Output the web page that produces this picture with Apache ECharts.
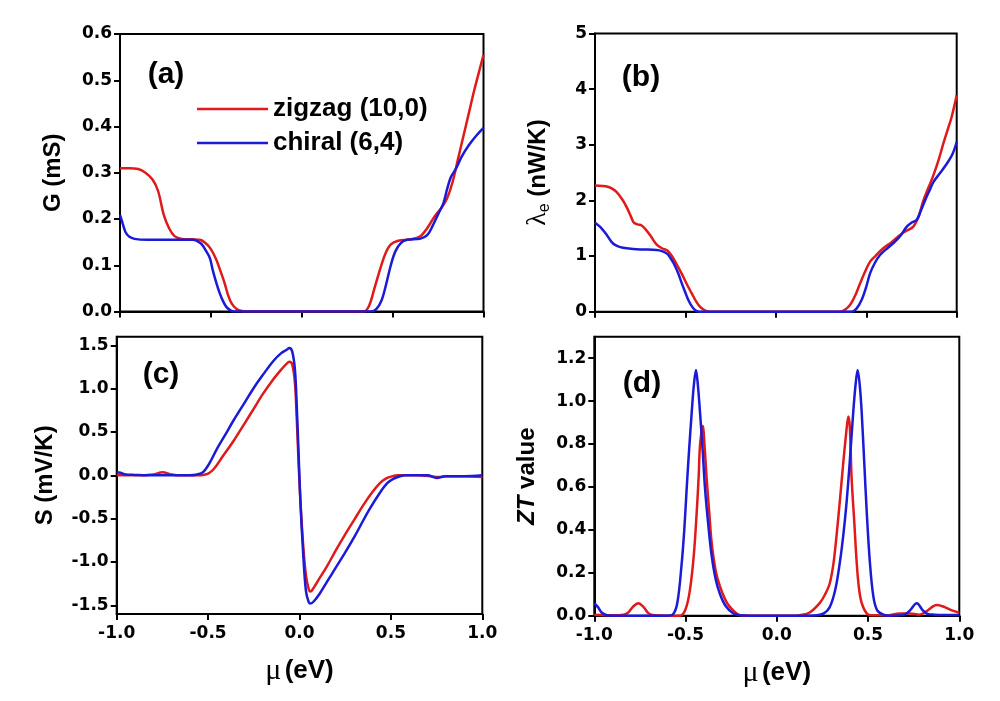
<!DOCTYPE html>
<html>
<head>
<meta charset="utf-8">
<script src="https://cdn.jsdelivr.net/npm/echarts@6/dist/echarts.min.js"></script>
<style>
html,body{margin:0;padding:0;background:#fff;}
#c{width:1000px;height:701px;}
</style>
</head>
<body>
<div id="c"></div>
<script>
// ---------- data ----------
const seriesNames = ['zigzag (10,0)', 'chiral (6,4)'];
const xTicks = [-1.0, -0.5, 0.0, 0.5, 1.0];

// (a) conductance G (mS)
const muA_zz = [-1.0,-0.95,-0.9,-0.86,-0.82,-0.79,-0.76,-0.73,-0.70,-0.66,-0.6,-0.56,-0.53,-0.50,-0.47,-0.445,-0.425,-0.405,-0.385,-0.36,-0.33,-0.3,0,0.3,0.34,0.37,0.40,0.43,0.46,0.49,0.53,0.6,0.65,0.69,0.73,0.77,0.80,0.83,0.86,0.89,0.92,0.95,0.98,1.0];
const gA_zz  = [0.31,0.31,0.308,0.30,0.285,0.26,0.21,0.18,0.163,0.157,0.156,0.155,0.148,0.135,0.112,0.085,0.062,0.035,0.017,0.006,0.001,0,0,0,0,0.012,0.05,0.09,0.125,0.145,0.153,0.156,0.162,0.18,0.205,0.225,0.245,0.28,0.33,0.38,0.43,0.48,0.525,0.555];
const muA_ch = [-1.0,-0.985,-0.97,-0.95,-0.92,-0.85,-0.6,-0.58,-0.55,-0.525,-0.505,-0.49,-0.47,-0.45,-0.435,-0.415,-0.39,-0.37,0,0.38,0.41,0.44,0.465,0.49,0.515,0.545,0.58,0.65,0.69,0.72,0.75,0.78,0.80,0.82,0.85,0.88,0.92,0.96,1.0];
const gA_ch  = [0.209,0.19,0.172,0.162,0.157,0.155,0.155,0.153,0.145,0.13,0.115,0.09,0.062,0.038,0.024,0.01,0.002,0,0,0,0.005,0.025,0.06,0.1,0.13,0.148,0.155,0.157,0.165,0.185,0.21,0.235,0.265,0.29,0.31,0.335,0.36,0.38,0.397];

// (b) electron thermal conductance (nW/K)
const muB_zz = [-1.0,-0.96,-0.935,-0.91,-0.88,-0.85,-0.825,-0.8,-0.785,-0.765,-0.742,-0.72,-0.69,-0.66,-0.63,-0.6,-0.575,-0.55,-0.52,-0.49,-0.465,-0.44,-0.42,-0.4,-0.38,-0.36,0,0.355,0.38,0.41,0.44,0.466,0.495,0.521,0.55,0.594,0.64,0.687,0.72,0.76,0.79,0.816,0.845,0.871,0.9,0.926,0.95,0.972,1.0];
const kB_zz  = [2.27,2.26,2.25,2.22,2.15,2.02,1.88,1.7,1.6,1.57,1.55,1.48,1.35,1.21,1.14,1.1,1.0,0.86,0.68,0.48,0.33,0.18,0.09,0.04,0.01,0,0,0,0.03,0.12,0.3,0.51,0.73,0.9,1.0,1.14,1.25,1.38,1.45,1.53,1.72,2.0,2.24,2.45,2.73,3.02,3.27,3.5,3.89];
const muB_ch = [-1.0,-0.97,-0.935,-0.91,-0.889,-0.86,-0.825,-0.75,-0.66,-0.63,-0.6,-0.58,-0.565,-0.54,-0.52,-0.5,-0.484,-0.465,-0.447,-0.43,-0.41,0,0.419,0.445,0.474,0.5,0.521,0.548,0.576,0.62,0.659,0.69,0.724,0.75,0.779,0.8,0.825,0.85,0.871,0.91,0.945,0.975,1.0];
const kB_ch  = [1.6,1.52,1.38,1.26,1.2,1.16,1.14,1.12,1.11,1.09,1.04,0.95,0.87,0.69,0.51,0.34,0.21,0.1,0.03,0.005,0,0,0,0.05,0.21,0.45,0.69,0.88,1.02,1.15,1.26,1.37,1.53,1.6,1.65,1.8,2.0,2.18,2.33,2.5,2.66,2.82,3.05];

// (c) Seebeck coefficient S (mV/K)
const muC_zz = [-1.0,-0.9,-0.8,-0.75,-0.7,-0.65,-0.55,-0.52,-0.5,-0.47,-0.42,-0.36,-0.3,-0.25,-0.2,-0.15,-0.1,-0.07,-0.055,-0.04,-0.025,-0.015,-0.005,0.005,0.02,0.035,0.05,0.06,0.08,0.1,0.15,0.2,0.25,0.3,0.35,0.4,0.44,0.47,0.5,0.54,0.65,0.72,0.76,0.8,0.9,1.0];
const sC_zz  = [0,0,0.01,0.035,0.01,0,0,0.008,0.02,0.07,0.22,0.40,0.60,0.77,0.94,1.09,1.22,1.29,1.31,1.28,1.07,0.65,0.15,-0.3,-0.8,-1.15,-1.31,-1.34,-1.29,-1.22,-1.05,-0.86,-0.68,-0.51,-0.34,-0.19,-0.09,-0.04,-0.015,0,0,-0.01,-0.02,-0.01,-0.01,-0.02];
const muC_ch = [-1.0,-0.98,-0.95,-0.9,-0.8,-0.6,-0.56,-0.526,-0.49,-0.453,-0.4,-0.362,-0.3,-0.253,-0.2,-0.143,-0.1,-0.07,-0.055,-0.04,-0.025,-0.015,-0.005,0.005,0.02,0.035,0.05,0.06,0.08,0.112,0.15,0.2,0.25,0.3,0.331,0.38,0.44,0.48,0.513,0.55,0.58,0.7,0.75,0.8,0.9,1.0];
const sC_ch  = [0.035,0.03,0.01,0.005,0,0,0.01,0.04,0.15,0.30,0.49,0.63,0.84,1.0,1.16,1.32,1.41,1.45,1.47,1.43,1.22,0.8,0.25,-0.3,-0.9,-1.33,-1.46,-1.48,-1.45,-1.36,-1.23,-1.06,-0.89,-0.71,-0.59,-0.40,-0.20,-0.09,-0.04,-0.01,0,0,-0.03,-0.01,-0.01,0];

// (d) figure of merit ZT
const muD_zz = [-1.0,-0.9,-0.84,-0.814,-0.79,-0.759,-0.73,-0.704,-0.68,-0.6,-0.53,-0.5,-0.476,-0.455,-0.439,-0.428,-0.421,-0.406,-0.395,-0.384,-0.37,-0.357,-0.335,-0.311,-0.28,-0.256,-0.22,-0.2,-0.15,0.1,0.127,0.18,0.236,0.265,0.29,0.31,0.327,0.345,0.364,0.38,0.392,0.4,0.41,0.425,0.438,0.45,0.465,0.493,0.52,0.6,0.674,0.729,0.78,0.82,0.85,0.876,0.92,0.96,1.0];
const ztD_zz = [0.005,0.002,0.005,0.015,0.04,0.058,0.04,0.012,0.003,0,0,0.03,0.12,0.28,0.48,0.65,0.79,0.884,0.78,0.635,0.48,0.34,0.21,0.135,0.07,0.04,0.01,0.002,0,0,0.002,0.015,0.06,0.1,0.15,0.24,0.37,0.53,0.71,0.85,0.928,0.88,0.64,0.43,0.245,0.13,0.06,0.01,0.002,0.002,0.01,0.01,0.005,0.02,0.04,0.05,0.04,0.025,0.014];
const muD_ch = [-1.0,-0.98,-0.96,-0.93,-0.9,-0.6,-0.57,-0.545,-0.521,-0.507,-0.494,-0.48,-0.466,-0.455,-0.443,-0.432,-0.421,-0.407,-0.393,-0.375,-0.357,-0.335,-0.311,-0.28,-0.238,-0.2,-0.15,0.15,0.22,0.26,0.29,0.32,0.345,0.365,0.382,0.4,0.419,0.432,0.443,0.455,0.465,0.48,0.493,0.51,0.529,0.55,0.584,0.62,0.7,0.73,0.767,0.8,0.822,0.86,1.0];
const ztD_ch = [0.058,0.04,0.015,0.002,0,0,0.005,0.06,0.245,0.4,0.59,0.78,0.95,1.07,1.145,1.07,0.95,0.78,0.59,0.42,0.28,0.17,0.1,0.045,0.01,0.002,0,0,0.002,0.012,0.04,0.12,0.245,0.38,0.525,0.72,0.95,1.08,1.145,1.07,0.95,0.7,0.48,0.25,0.09,0.025,0.005,0,0.005,0.025,0.058,0.025,0.01,0.005,0.003];

// tick labels
const yTicksA = [0, 0.1, 0.2, 0.3, 0.4, 0.5, 0.6];
const yTicksB = [0, 1, 2, 3, 4, 5];
const yTicksC = [-1.5, -1.0, -0.5, 0.0, 0.5, 1.0, 1.5];
const yTicksD = [0, 0.2, 0.4, 0.6, 0.8, 1.0, 1.2];
const panelLabels = ['(a)', '(b)', '(c)', '(d)'];

// ---------- chart ----------
const RED = '#e01a1a', BLUE = '#1a1ad8';
const tickFont = {fontFamily: 'DejaVu Sans', fontWeight: 'bold', fontSize: 17, color: '#000'};
const pairs = (xs, ys) => xs.map((x, i) => [x, ys[i]]);

const grids = [
  {left: 120, top: 34, width: 363.5, height: 277.5},
  {left: 595, top: 33.5, width: 361.7, height: 278.2},
  {left: 116.7, top: 336.7, width: 365.6, height: 277.3},
  {left: 594.3, top: 336.7, width: 365, height: 279}
].map(g => Object.assign(g, {show: true, borderColor: '#000', borderWidth: 2, backgroundColor: 'transparent'}));

function xAxis(i, withLabels) {
  return {
    type: 'value', gridIndex: i, min: -1, max: 1, interval: 0.5,
    axisLine: {show: true, onZero: false, lineStyle: {color: '#000', width: 2}},
    axisTick: {show: true, inside: false, length: 6, lineStyle: {color: '#000', width: 2}},
    splitLine: {show: false},
    axisLabel: Object.assign({show: withLabels, margin: 11, formatter: v => v.toFixed(1)}, tickFont),
    name: withLabels ? '{m|μ} {b|(eV)}' : '',
    nameLocation: 'middle', nameGap: 42,
    nameTextStyle: {rich: {
      m: {fontFamily: 'Liberation Serif', fontSize: 30, color: '#000'},
      b: {fontFamily: 'Liberation Sans', fontWeight: 'bold', fontSize: 26, color: '#000'}
    }}
  };
}

function yAxis(i, min, max, ticks, digits, name, nameGap, rich) {
  return {
    type: 'value', gridIndex: i, min: min, max: max,
    axisLine: {show: true, onZero: false, lineStyle: {color: '#000', width: 2}},
    axisTick: {show: true, inside: false, length: 6, lineStyle: {color: '#000', width: 2}, customValues: ticks},
    splitLine: {show: false},
    axisLabel: Object.assign({margin: 8, customValues: ticks, formatter: v => v.toFixed(digits)}, tickFont),
    name: name, nameLocation: 'middle', nameGap: nameGap, nameRotate: 90,
    nameTextStyle: {rich: rich}
  };
}

const boldRich = {b: {fontFamily: 'Liberation Sans', fontWeight: 'bold', fontSize: 24, color: '#000'}};

const option = {
  animation: false,
  backgroundColor: '#fff',
  grid: grids,
  xAxis: [xAxis(0, false), xAxis(1, false), xAxis(2, true), xAxis(3, true)],
  yAxis: [
    yAxis(0, 0, 0.6, yTicksA, 1, '{b|G (mS)}', 55, boldRich),
    yAxis(1, 0, 5, yTicksB, 0, '{l|λ}{s|e}{b| (nW/K)}', 42, {
      l: {fontFamily: 'Liberation Serif', fontSize: 28, color: '#000'},
      s: {fontFamily: 'Liberation Sans', fontSize: 16, color: '#000', verticalAlign: 'bottom', padding: [14, 0, 0, 0]},
      b: {fontFamily: 'Liberation Sans', fontWeight: 'bold', fontSize: 24, color: '#000'}
    }),
    yAxis(2, -1.6, 1.6, yTicksC, 1, '{b|S (mV/K)}', 59, boldRich),
    yAxis(3, 0, 1.3, yTicksD, 1, '{i|ZT}{b| value}', 55, {
      i: {fontFamily: 'Liberation Sans', fontWeight: 'bold', fontStyle: 'italic', fontSize: 24, color: '#000'},
      b: {fontFamily: 'Liberation Sans', fontWeight: 'bold', fontSize: 24, color: '#000'}
    })
  ],
  legend: {
    show: true, orient: 'vertical', left: 197, top: 94,
    data: seriesNames, icon: 'rect', itemWidth: 71, itemHeight: 2.5, itemGap: 4,
    textStyle: {fontFamily: 'Liberation Sans', fontWeight: 'bold', fontSize: 26, color: '#000', lineHeight: 30},
    padding: 0
  },
  graphic: panelLabels.map((t, i) => ({
    type: 'text',
    x: [166, 641, 161, 642][i], y: [75, 77.5, 375, 384][i],
    style: {text: t, font: 'bold 30px "Liberation Sans"', fill: '#000', align: 'center', verticalAlign: 'middle'}
  })),
  series: []
};

const panels = [
  [muA_zz, gA_zz, muA_ch, gA_ch],
  [muB_zz, kB_zz, muB_ch, kB_ch],
  [muC_zz, sC_zz, muC_ch, sC_ch],
  [muD_zz, ztD_zz, muD_ch, ztD_ch]
];
panels.forEach((p, i) => {
  option.series.push({
    name: seriesNames[0], type: 'line', xAxisIndex: i, yAxisIndex: i,
    data: pairs(p[0], p[1]), showSymbol: false, symbol: 'none', smooth: 0.35,
    lineStyle: {color: RED, width: 2.5}, itemStyle: {color: RED}, z: 2
  });
  option.series.push({
    name: seriesNames[1], type: 'line', xAxisIndex: i, yAxisIndex: i,
    data: pairs(p[2], p[3]), showSymbol: false, symbol: 'none', smooth: 0.35,
    lineStyle: {color: BLUE, width: 2.5}, itemStyle: {color: BLUE}, z: 3
  });
});

const chart = echarts.init(document.getElementById('c'), null, {renderer: 'canvas'});
chart.setOption(option);
</script>
</body>
</html>
